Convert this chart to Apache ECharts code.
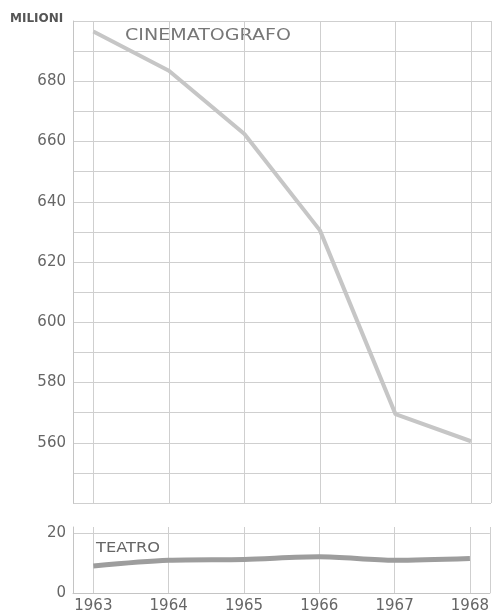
<!DOCTYPE html>
<html>
<head>
<meta charset="utf-8">
<script src="https://cdn.jsdelivr.net/npm/echarts@6.0.0/dist/echarts.min.js"></script>
<style>
html, body { margin: 0; padding: 0; background: #fff; }
#main { width: 492px; height: 616px; }
</style>
</head>
<body>
<div id="main"></div>
<script>
// anni
var years = [1963, 1964, 1965, 1966, 1967, 1968];
// spettatori (milioni)
var cinema = [696.5, 683.5, 662.5, 630.5, 569.5, 560.5];
var teatro = [9.1, 11.0, 11.3, 12.2, 11.0, 11.6];
// etichette asse y
var topLabels = [560, 580, 600, 620, 640, 660, 680];
var bottomLabels = [0, 20];

var xMin = 1962.73, xMax = 1968.265;
var gridColor = '#cfcfcf';
var labelFont = {color: '#666', fontSize: 15, fontFamily: 'DejaVu Sans'};

function pairs(vals) {
    var out = [];
    for (var i = 0; i < years.length; i++) {
        out.push([years[i], vals[i]]);
    }
    return out;
}

var xTicks = [xMin].concat(years).concat([xMax]);

var mychart = echarts.init(document.getElementById('main'));
var option = {
    backgroundColor: '#fff',
    animation: false,
    grid: [
        {left: 73, top: 21, width: 418, height: 482},
        {left: 73, top: 527, width: 418, height: 66}
    ],
    xAxis: [
        {
            gridIndex: 0, type: 'value', min: xMin, max: xMax,
            axisLine: {show: false},
            axisTick: {show: false, customValues: xTicks},
            axisLabel: {show: false},
            splitLine: {show: true, lineStyle: {color: gridColor, width: 1}}
        },
        {
            gridIndex: 1, type: 'value', min: xMin, max: xMax,
            axisLine: {show: true, lineStyle: {color: '#c4c4c4'}},
            axisTick: {show: false, customValues: xTicks},
            axisLabel: Object.assign({customValues: years, margin: 6,
                formatter: function (v) { return String(v); }}, labelFont),
            splitLine: {show: true, lineStyle: {color: gridColor, width: 1}}
        }
    ],
    yAxis: [
        {
            gridIndex: 0, type: 'value', min: 540, max: 700, interval: 10,
            axisLine: {show: true, lineStyle: {color: '#c4c4c4'}},
            axisTick: {show: false},
            axisLabel: Object.assign({margin: 7,
                formatter: function (v) { return topLabels.indexOf(v) >= 0 ? String(v) : ''; }}, labelFont),
            splitLine: {show: true, lineStyle: {color: gridColor, width: 1}}
        },
        {
            gridIndex: 1, type: 'value', min: 0, max: 22.2, interval: 20,
            axisLine: {show: true, lineStyle: {color: '#c4c4c4'}},
            axisTick: {show: false},
            axisLabel: Object.assign({margin: 7,
                formatter: function (v) { return bottomLabels.indexOf(v) >= 0 ? String(v) : ''; }}, labelFont),
            splitLine: {show: true, lineStyle: {color: ['transparent', gridColor, 'transparent'], width: 1}}
        }
    ],
    graphic: [
        {type: 'text', left: 10, top: 13,
            style: {text: 'MILIONI', fill: '#555', font: 'bold 12px "DejaVu Sans"'}},
        {type: 'text', x: 125, y: 29, scaleX: 1.27,
            style: {text: 'CINEMATOGRAFO', fill: '#777', font: '15px "DejaVu Sans"'}},
        {type: 'text', x: 96, y: 541, scaleX: 1.16,
            style: {text: 'TEATRO', fill: '#666', font: '14px "DejaVu Sans"'}}
    ],
    series: [
        {
            name: 'Cinematografo', type: 'line', xAxisIndex: 0, yAxisIndex: 0,
            data: pairs(cinema), symbol: 'none',
            lineStyle: {color: '#c6c6c6', width: 4}
        },
        {
            name: 'Teatro', type: 'line', xAxisIndex: 1, yAxisIndex: 1,
            data: pairs(teatro), symbol: 'none', smooth: 0.3,
            lineStyle: {color: '#9d9d9d', width: 5}
        }
    ]
};
mychart.setOption(option);
</script>
</body>
</html>
